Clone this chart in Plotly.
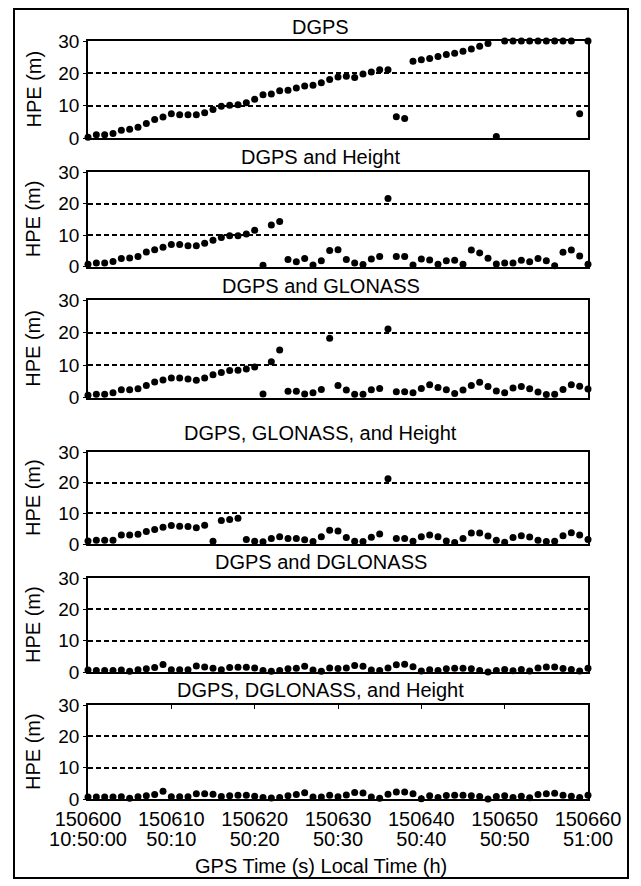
import plotly.graph_objects as go

# ---------------- data ----------------
gps_time = list(range(150600, 150661))  # one fix per second

panel_titles = [
    "DGPS",
    "DGPS and Height",
    "DGPS and GLONASS",
    "DGPS, GLONASS, and Height",
    "DGPS and DGLONASS",
    "DGPS, DGLONASS, and Height",
]

hpe_dgps = [0.2, 1.0, 1.0, 1.4, 2.4, 2.7, 3.3, 4.5, 5.7, 6.5,
            7.5, 7.2, 7.2, 7.2, 7.8, 8.8, 9.8, 10.1, 10.3, 10.9,
            12.0, 13.4, 13.6, 14.6, 14.8, 15.5, 16.1, 16.3, 17.1, 18.1,
            18.9, 19.1, 18.7, 19.8, 20.4, 21.1, 21.1, 6.6, 6.0, 23.7,
            24.2, 24.6, 25.2, 25.8, 26.2, 26.8, 27.5, 28.4, 29.2, 0.5,
            30, 30, 30, 30, 30, 30, 30, 30, 30, 7.5, 30]

hpe_dgps_height = [0.7, 1.1, 1.1, 1.6, 2.5, 2.7, 3.2, 4.6, 5.3, 6.1,
                   7.0, 7.0, 6.6, 6.6, 7.4, 8.3, 9.2, 9.8, 9.8, 10.3,
                   11.5, 0.4, 13.2, 14.3, 2.2, 1.5, 2.5, 0.5, 1.8, 5.1,
                   5.3, 2.2, 1.1, 0.6, 2.4, 3.2, 21.6, 3.2, 3.2, 0.5,
                   2.4, 2.1, 0.7, 1.8, 2.0, 0.7, 5.2, 4.3, 2.6, 0.8,
                   1.1, 1.1, 2.0, 1.5, 2.5, 1.8, 0.2, 4.5, 5.2, 3.3, 0.7]

hpe_dgps_glonass = [0.7, 1.0, 1.0, 1.5, 2.4, 2.4, 2.7, 3.7, 4.8, 5.4,
                    6.0, 6.0, 5.7, 5.3, 6.0, 7.0, 7.7, 8.3, 8.4, 8.8,
                    9.4, 1.1, 11.0, 14.6, 1.9, 1.9, 1.1, 1.5, 2.5, 18.2,
                    3.7, 2.3, 1.0, 1.0, 2.4, 2.8, 21.1, 1.8, 1.8, 1.5,
                    2.8, 3.9, 3.1, 2.4, 1.2, 2.3, 3.7, 4.7, 3.4, 2.0,
                    1.5, 2.9, 3.4, 2.7, 1.7, 0.9, 1.0, 2.5, 3.9, 3.5, 2.6]

hpe_dgps_glonass_height = [1.0, 1.2, 1.2, 1.2, 2.9, 2.9, 3.2, 4.1, 4.7, 5.5,
                           6.0, 5.8, 5.7, 5.3, 6.1, 0.9, 7.7, 8.0, 8.4, 1.5,
                           0.9, 0.7, 1.8, 2.4, 1.8, 1.8, 1.4, 0.8, 2.4, 4.5,
                           4.2, 2.1, 0.9, 0.8, 2.2, 3.3, 21.3, 1.8, 1.8, 0.9,
                           2.4, 2.9, 2.4, 1.0, 0.5, 1.8, 3.6, 3.6, 2.6, 1.2,
                           0.6, 2.1, 2.7, 2.3, 1.2, 0.8, 0.9, 2.7, 3.7, 2.9, 1.5]

hpe_dgps_dglonass = [0.6, 0.5, 0.5, 0.5, 0.6, 0.2, 0.7, 1.0, 1.4, 2.4,
                     0.7, 0.7, 0.7, 1.9, 1.6, 1.2, 0.7, 1.4, 1.5, 1.5,
                     1.3, 0.5, 0.2, 0.5, 1.0, 1.2, 1.8, 0.6, 0.2, 1.3,
                     1.1, 1.3, 2.1, 1.8, 0.6, 0.5, 1.3, 2.3, 2.5, 1.7,
                     0.3, 0.7, 0.5, 1.0, 1.2, 1.2, 1.0, 0.5, 0.0, 0.5,
                     0.8, 0.4, 0.8, 0.3, 1.3, 1.6, 1.6, 1.1, 0.8, 0.3, 1.2]

hpe_dgps_dglonass_height = [0.6, 0.6, 0.6, 0.6, 0.7, 0.2, 0.7, 1.0, 1.4, 2.5,
                            0.7, 0.7, 0.7, 1.7, 1.7, 1.5, 0.8, 1.0, 1.2, 1.2,
                            0.9, 0.5, 0.3, 0.5, 1.0, 1.4, 2.0, 0.6, 0.6, 1.2,
                            0.7, 1.3, 2.1, 1.9, 0.6, 0.2, 1.5, 2.2, 2.2, 1.7,
                            0.1, 1.0, 0.5, 1.1, 1.2, 1.2, 1.0, 0.8, 0.0, 0.8,
                            1.0, 0.5, 0.9, 0.4, 1.4, 1.7, 1.8, 1.2, 0.9, 0.5, 1.2]

series = [hpe_dgps, hpe_dgps_height, hpe_dgps_glonass,
          hpe_dgps_glonass_height, hpe_dgps_dglonass, hpe_dgps_dglonass_height]

gps_ticks = [150600, 150610, 150620, 150630, 150640, 150650, 150660]
gps_tick_text = ["150600", "150610", "150620", "150630", "150640", "150650", "150660"]
local_tick_text = ["10:50:00", "50:10", "50:20", "50:30", "50:40", "50:50", "51:00"]
hpe_ticks = [0, 10, 20, 30]

# ---------------- layout geometry ----------------
# the page body adds an 8 px margin, so the figure is drawn 8 px smaller
OFF = 8
W, H = 641 - OFF, 886 - OFF
PLOT_L, PLOT_R, PLOT_T, PLOT_B = 88, 588, 41, 799   # target page pixels
ML, MR, MT, MB = PLOT_L - OFF, W - (PLOT_R - OFF), PLOT_T - OFF, H - (PLOT_B - OFF)
plot_h = PLOT_B - PLOT_T
plot_w = PLOT_R - PLOT_L
panel_px = [(41, 138), (172, 266.5), (300, 397.5), (452, 544), (578, 672), (705, 799)]
title_px = [27, 157, 286, 433, 562, 690]
FONT = "Liberation Sans, Arial, sans-serif"


def py(p):
    return (PLOT_B - p) / plot_h


def px(p):
    return (p - PLOT_L) / plot_w


fig = go.Figure()
layout = dict(
    width=W, height=H,
    margin=dict(l=ML, r=MR, t=MT, b=MB, pad=0),
    paper_bgcolor="white", plot_bgcolor="white",
    showlegend=False,
    font=dict(family=FONT, color="black", size=19),
)

annotations = []
for k, (title, vals) in enumerate(zip(panel_titles, series)):
    n = k + 1
    fig.add_trace(go.Scatter(
        x=gps_time, y=vals, mode="markers",
        marker=dict(color="black", size=7),
        cliponaxis=False, xaxis=f"x{n}", yaxis=f"y{n}", hoverinfo="x+y",
    ))
    top, bot = panel_px[k]
    last = (n == 6)
    layout[f"xaxis{n}"] = dict(
        domain=[0, 1], range=[150600, 150660], anchor=f"y{n}",
        showline=True, mirror="ticks" if last else True, linecolor="black", linewidth=1.8,
        showgrid=False, zeroline=False,
        tickvals=gps_ticks, ticktext=gps_tick_text,
        showticklabels=last, ticks="inside" if last else "", ticklen=4,
        tickcolor="black", tickfont=dict(size=20), ticklabelstandoff=1,
    )
    layout[f"yaxis{n}"] = dict(
        domain=[py(bot), py(top)], range=[0, 30], anchor=f"x{n}",
        showline=True, mirror=True, linecolor="black", linewidth=1.8,
        showgrid=True, gridcolor="black", gridwidth=1.5, griddash="5px,3px",
        zeroline=False, tickvals=hpe_ticks, ticks="outside", ticklen=3,
        tickcolor="black", tickfont=dict(size=19),
    )
    annotations.append(dict(
        text=title, xref="paper", yref="paper", x=px(320.5),
        y=py(title_px[k]), xanchor="center", yanchor="middle", showarrow=False,
        font=dict(size=20),
    ))
    annotations.append(dict(
        text="HPE (m)", xref="paper", yref="paper", x=px(33),
        y=py((top + bot) / 2), xanchor="center", yanchor="middle", showarrow=False,
        textangle=-90, font=dict(size=20),
    ))

# second row of x tick labels (local time)
fig.add_trace(go.Scatter(x=[], y=[], xaxis="x7", yaxis="y6", hoverinfo="skip"))
layout["xaxis7"] = dict(
    overlaying="x6", anchor="y6", side="bottom", range=[150600, 150660],
    showline=False, showgrid=False, zeroline=False, ticks="",
    tickvals=gps_ticks, ticktext=local_tick_text, tickfont=dict(size=20),
    ticklabelstandoff=26,
)

annotations.append(dict(
    text="GPS Time (s) Local Time (h)", xref="paper", yref="paper",
    x=px(320.5), y=py(866), xanchor="center", yanchor="middle",
    showarrow=False, font=dict(size=20),
))
layout["annotations"] = annotations

# outer frame of the figure
layout["shapes"] = [dict(
    type="rect", xref="paper", yref="paper",
    x0=px(14), x1=px(628), y0=py(878), y1=py(OFF + 1),
    line=dict(color="black", width=2), fillcolor="rgba(0,0,0,0)", layer="above",
)]

fig.update_layout(**layout)
fig.write_html("out.html")
